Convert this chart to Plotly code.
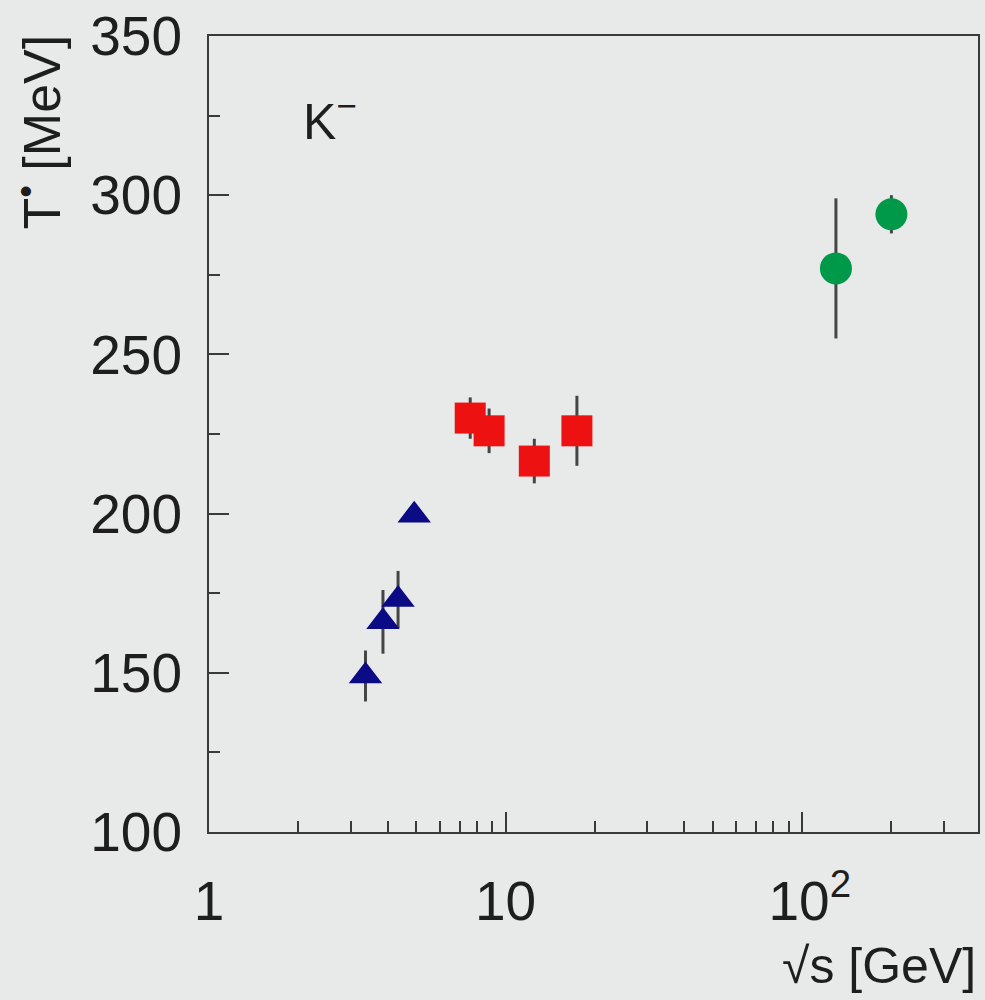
import plotly.graph_objects as go

# AGS (blue triangles)
ags_x = [3.37, 3.86, 4.34, 4.92]
ags_y = [149, 166, 173, 199.5]
ags_err = [8, 10, 9, 0]

# SPS (red squares)
sps_x = [7.6, 8.8, 12.5, 17.4]
sps_y = [230, 226, 216.5, 226]
sps_err = [6.5, 7, 7, 11]

# RHIC (green circles)
rhic_x = [130, 200]
rhic_y = [277, 294]
rhic_err = [22, 6]

x_tickvals = [1, 10, 100]
x_ticktext = ["1", "10", "\u00a010<sup>2</sup>"]
x_minor = [2, 3, 4, 5, 6, 7, 8, 9, 20, 30, 40, 50, 60, 70, 80, 90, 200, 300]
y_tickvals = [100, 150, 200, 250, 300, 350]
y_minor = [125, 175, 225, 275, 325]

BG = "#e8eae9"
AX = "#3a3a3a"
FONT = "Liberation Sans, Arial, sans-serif"

fig = go.Figure()

def add(xs, ys, errs, symbol, color, size):
    fig.add_trace(go.Scatter(
        x=xs, y=ys, mode="markers",
        marker=dict(symbol=symbol, color=color, size=size, line=dict(width=0)),
        error_y=dict(type="data", array=errs, visible=True, color="#454545",
                     thickness=3, width=0),
        showlegend=False,
    ))

add(ags_x, ags_y, ags_err, "triangle-up", "#0b0b85", 29)
add(sps_x, sps_y, sps_err, "square", "#ee1111", 31)
add(rhic_x, rhic_y, rhic_err, "circle", "#00994a", 32)

fig.update_layout(
    width=985, height=1000,
    margin=dict(l=209, r=5, t=33, b=168),
    paper_bgcolor=BG, plot_bgcolor=BG,
    font=dict(family=FONT, size=55, color="#1e1e1e"),
)

fig.update_xaxes(
    type="log", range=[0, 2.593],
    tickvals=x_tickvals, ticktext=x_ticktext,
    ticks="inside", ticklen=20, tickwidth=2, tickcolor=AX,
    minor=dict(tickvals=x_minor, ticks="inside", ticklen=11, tickwidth=2, tickcolor=AX),
    showline=True, linecolor=AX, linewidth=2, mirror=True,
    showgrid=False, zeroline=False,
    ticklabelstandoff=20,
    tickfont=dict(size=55),
)
fig.update_yaxes(
    range=[100, 350],
    tickvals=y_tickvals,
    ticks="inside", ticklen=20, tickwidth=2, tickcolor=AX,
    minor=dict(tickvals=y_minor, ticks="inside", ticklen=11, tickwidth=2, tickcolor=AX),
    showline=True, linecolor=AX, linewidth=2, mirror=True,
    showgrid=False, zeroline=False,
    ticklabelstandoff=14,
    tickfont=dict(size=55),
)

fig.add_annotation(
    text="K<sup>\u2212</sup>", xref="paper", yref="paper",
    x=0.12, y=0.897, xanchor="left", yanchor="middle",
    showarrow=False, font=dict(size=50),
)
fig.add_annotation(
    text="T<sup>•</sup> [MeV]", xref="paper", yref="paper",
    x=-0.222, y=1.004, xanchor="center", yanchor="top", textangle=-90,
    showarrow=False, font=dict(size=52),
)
fig.add_annotation(
    text="√s [GeV]", xref="paper", yref="paper",
    x=1.0, y=-0.2065, xanchor="right", yanchor="bottom",
    showarrow=False, font=dict(size=50),
)

fig.write_html("out.html")
